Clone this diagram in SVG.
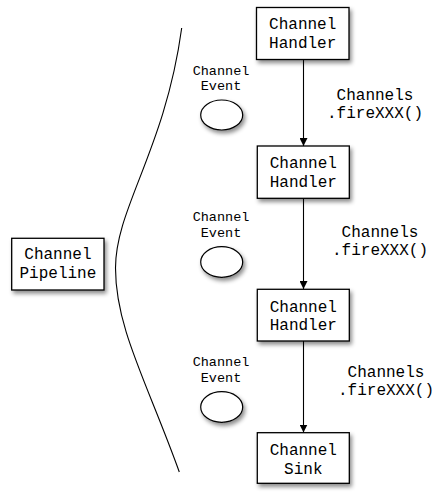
<svg xmlns="http://www.w3.org/2000/svg" width="441" height="500" viewBox="0 0 441 500">
  <style>
    .box { fill: #ffffff; stroke: #000000; stroke-width: 1.3; filter: url(#shadow); }
    .ev { fill: #ffffff; stroke: #000000; stroke-width: 1.2; filter: url(#shadow); }
    .t { font-family: "Liberation Mono", "Courier New", monospace; font-size: 16px; fill: #000000; text-anchor: middle; }
    .s { font-family: "Liberation Mono", "Courier New", monospace; font-size: 13.5px; fill: #000000; text-anchor: middle; }
    .conn { stroke: #000000; stroke-width: 1.1; fill: none; }
  </style>
  <defs>
    <filter id="shadow" x="-20%" y="-20%" width="150%" height="160%">
      <feDropShadow dx="2" dy="3" stdDeviation="2" flood-color="#000000" flood-opacity="0.45"/>
    </filter>
    <marker id="arrow" viewBox="0 0 10 10" refX="10" refY="5" markerWidth="8" markerHeight="8" markerUnits="userSpaceOnUse" orient="auto">
      <path d="M0,0 L10,5 L0,10 Z" fill="#000000"/>
    </marker>
  </defs>

  <g id="connectors">
    <line class="conn" x1="303.5" y1="59.5" x2="303.5" y2="146" marker-end="url(#arrow)"/>
    <line class="conn" x1="303.5" y1="198.5" x2="303.5" y2="289" marker-end="url(#arrow)"/>
    <line class="conn" x1="303.5" y1="341" x2="303.5" y2="432.5" marker-end="url(#arrow)"/>
    <path class="conn" d="M181.7,28 C165,150 115.5,208 115.5,268 C115.5,328 146.9,382 179.3,472"/>
  </g>

  <g id="label1">
    <text class="t" x="375" y="100">Channels</text>
    <text class="t" x="375" y="118">.fireXXX()</text>
  </g>
  <g id="label2">
    <text class="t" x="380" y="236.5">Channels</text>
    <text class="t" x="380" y="255">.fireXXX()</text>
  </g>
  <g id="label3">
    <text class="t" x="386" y="376.5">Channels</text>
    <text class="t" x="386" y="395">.fireXXX()</text>
  </g>

  <g id="handler1">
    <rect class="box" x="256.5" y="7.5" width="92.5" height="52"/>
    <text class="t" x="302.7" y="29">Channel</text>
    <text class="t" x="302.7" y="48.3">Handler</text>
  </g>
  <g id="handler2">
    <rect class="box" x="257.3" y="146" width="92" height="52.3"/>
    <text class="t" x="303.3" y="168.3">Channel</text>
    <text class="t" x="303.3" y="186.7">Handler</text>
  </g>
  <g id="handler3">
    <rect class="box" x="257.3" y="289.3" width="92" height="51.7"/>
    <text class="t" x="303.3" y="311.7">Channel</text>
    <text class="t" x="303.3" y="330">Handler</text>
  </g>
  <g id="sink">
    <rect class="box" x="257.3" y="432.7" width="92" height="50.6"/>
    <text class="t" x="303.3" y="455">Channel</text>
    <text class="t" x="303.3" y="474.3">Sink</text>
  </g>
  <g id="pipeline">
    <rect class="box" x="11.7" y="238.3" width="92.3" height="51.7"/>
    <text class="t" x="57.9" y="259.3">Channel</text>
    <text class="t" x="57.9" y="278.3">Pipeline</text>
  </g>

  <g id="event1">
    <text class="s" x="221" y="74.5">Channel</text>
    <text class="s" x="221" y="90">Event</text>
    <ellipse class="ev" cx="221.7" cy="115" rx="21" ry="15"/>
  </g>
  <g id="event2">
    <text class="s" x="221" y="220.7">Channel</text>
    <text class="s" x="221" y="236.5">Event</text>
    <ellipse class="ev" cx="221.7" cy="262" rx="21" ry="15.3"/>
  </g>
  <g id="event3">
    <text class="s" x="221" y="365.7">Channel</text>
    <text class="s" x="221" y="381.5">Event</text>
    <ellipse class="ev" cx="221.7" cy="407" rx="21" ry="15.3"/>
  </g>
</svg>
